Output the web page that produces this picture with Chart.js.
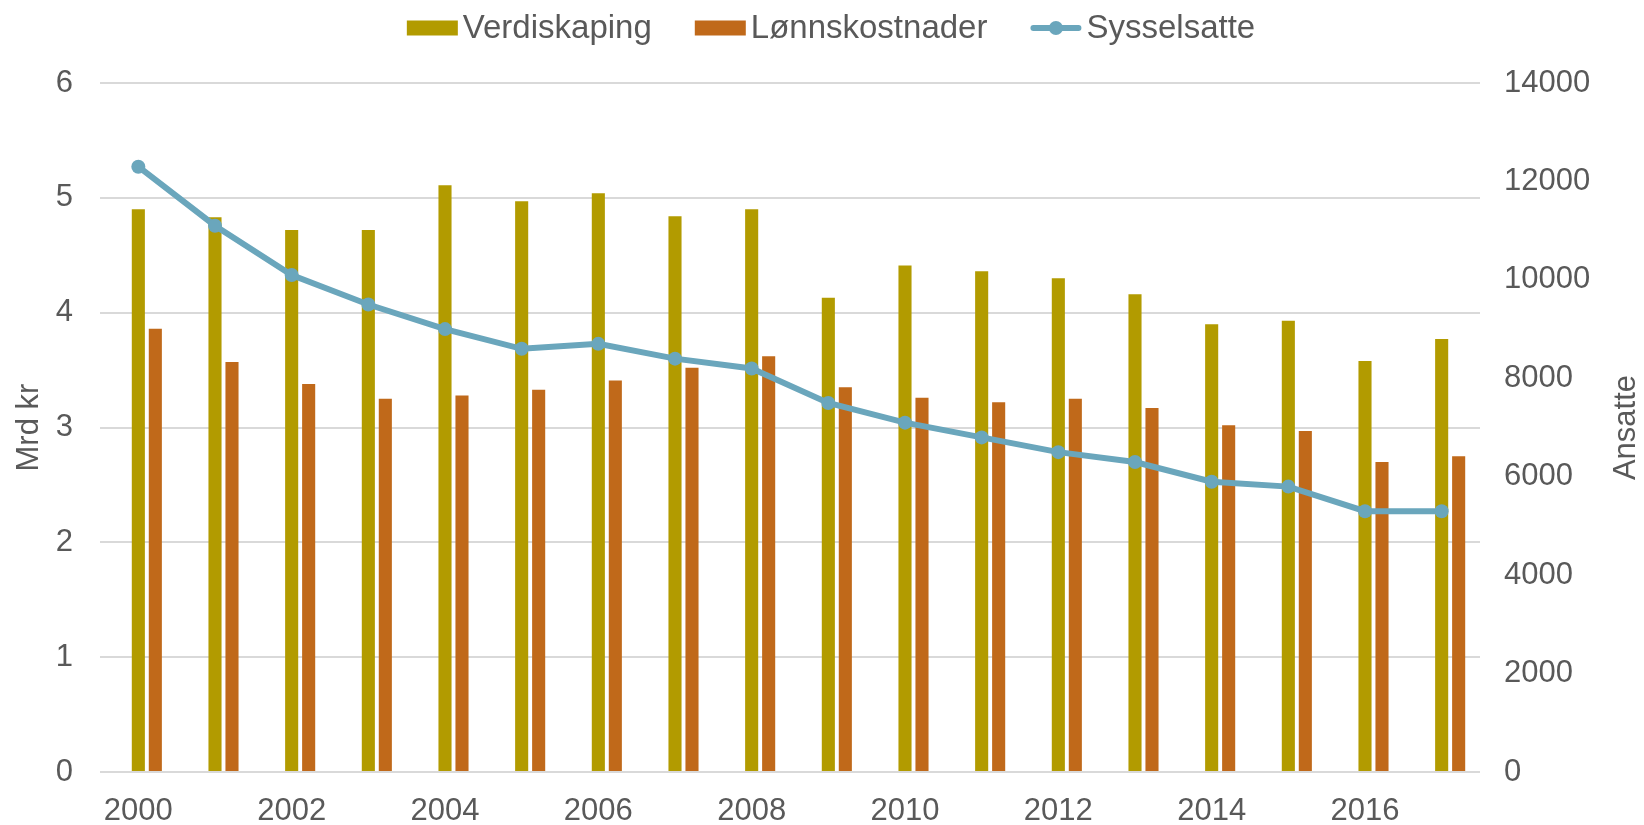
<!DOCTYPE html>
<html>
<head>
<meta charset="utf-8">
<title>Verdiskaping, lønnskostnader og sysselsatte</title>
<script src="https://cdn.jsdelivr.net/npm/chart.js@4/dist/chart.umd.min.js"></script>
<style>
  html, body { margin: 0; padding: 0; background: #fff; }
  .chart-box { position: relative; width: 1644px; height: 825px; }
</style>
</head>
<body>
<div class="chart-box">
  <canvas id="mainChart"></canvas>
</div>
<script>
  const years = ['2000', '2001', '2002', '2003', '2004', '2005', '2006', '2007', '2008',
                 '2009', '2010', '2011', '2012', '2013', '2014', '2015', '2016', '2017'];
  // Mrd kr
  const verdiskaping   = [4.90, 4.83, 4.72, 4.72, 5.11, 4.97, 5.04, 4.84, 4.90, 4.13, 4.41, 4.36, 4.30, 4.16, 3.90, 3.93, 3.58, 3.77];
  const lonnskostnader = [3.86, 3.57, 3.38, 3.25, 3.28, 3.33, 3.41, 3.52, 3.62, 3.35, 3.26, 3.22, 3.25, 3.17, 3.02, 2.97, 2.70, 2.75];
  // Ansatte
  const sysselsatte    = [12300, 11100, 10100, 9500, 9000, 8600, 8700, 8400, 8200, 7500, 7100, 6800, 6500, 6300, 5900, 5800, 5300, 5300];

  const leftTicks  = [0, 1, 2, 3, 4, 5, 6];
  const rightTicks = [0, 2000, 4000, 6000, 8000, 10000, 12000, 14000];

  const textColor = '#595959';
  const fontFamily = '"Liberation Sans", Arial, sans-serif';
  const fontSize = 31;
  const legendFontSize = 33;

  // legend + right axis title drawn by hand (line legend needs a marker, title reads bottom-up)
  const extras = {
    id: 'extras',
    afterDraw(chart) {
      const ctx = chart.ctx;
      const area = chart.chartArea;
      ctx.save();
      ctx.fillStyle = textColor;
      ctx.textBaseline = 'middle';

      // Ansatte
      ctx.font = fontSize + 'px ' + fontFamily;
      ctx.save();
      ctx.translate(1626, (area.top + area.bottom) / 2);
      ctx.rotate(-Math.PI / 2);
      ctx.textAlign = 'center';
      ctx.fillText('Ansatte', 0, 0);
      ctx.restore();

      // legend: bars first, then the line
      ctx.font = legendFontSize + 'px ' + fontFamily;
      const withLabel = chart.data.datasets.filter(d => d.label);
      const items = withLabel.filter(d => d.type !== 'line').concat(withLabel.filter(d => d.type === 'line'));
      const boxW = 51, gap = 5, spacing = 43;
      let total = 0;
      items.forEach((d, i) => {
        total += boxW + gap + ctx.measureText(d.label).width;
        if (i > 0) total += spacing;
      });
      let x = 831 - total / 2;
      const y = 28;
      ctx.textAlign = 'left';
      items.forEach(d => {
        if (d.type === 'line') {
          ctx.strokeStyle = d.borderColor;
          ctx.lineWidth = 6;
          ctx.lineCap = 'round';
          ctx.beginPath();
          ctx.moveTo(x + 3, y);
          ctx.lineTo(x + boxW - 3, y);
          ctx.stroke();
          ctx.fillStyle = d.borderColor;
          ctx.beginPath();
          ctx.arc(x + boxW / 2, y, 7, 0, Math.PI * 2);
          ctx.fill();
        } else {
          ctx.fillStyle = d.backgroundColor;
          ctx.fillRect(x, y - 7.5, boxW, 15);
        }
        ctx.fillStyle = textColor;
        ctx.fillText(d.label, x + boxW + gap, y + 1);
        x += boxW + gap + ctx.measureText(d.label).width + spacing;
      });
      ctx.restore();
    }
  };

  new Chart(document.getElementById('mainChart'), {
    data: {
      labels: years,
      datasets: [
        {
          type: 'line',
          label: 'Sysselsatte',
          data: sysselsatte,
          yAxisID: 'y1',
          borderColor: '#6aa6bc',
          backgroundColor: '#6aa6bc',
          borderWidth: 6,
          pointRadius: 7,
          pointBorderWidth: 0,
          pointBackgroundColor: '#6aa6bc',
          tension: 0,
          order: 0
        },
        {
          // empty slot so that Verdiskaping sits on the category centre
          type: 'bar',
          label: '',
          data: [],
          yAxisID: 'y',
          order: 1
        },
        {
          type: 'bar',
          label: 'Verdiskaping',
          data: verdiskaping,
          yAxisID: 'y',
          backgroundColor: '#b29b00',
          order: 1
        },
        {
          type: 'bar',
          label: 'Lønnskostnader',
          data: lonnskostnader,
          yAxisID: 'y',
          backgroundColor: '#c0691a',
          order: 1
        }
      ]
    },
    options: {
      responsive: true,
      maintainAspectRatio: false,
      animation: false,
      layout: { padding: { top: 83, left: 0, right: 0, bottom: 0 } },
      datasets: {
        bar: { categoryPercentage: 0.665, barPercentage: 0.77 }
      },
      plugins: {
        legend: { display: false },
        tooltip: { enabled: false }
      },
      scales: {
        x: {
          grid: { display: false, drawTicks: true, tickLength: 25, tickColor: 'transparent' },
          border: { display: false },
          ticks: {
            autoSkip: false,
            maxRotation: 0,
            padding: 0,
            color: textColor,
            font: { family: fontFamily, size: fontSize, lineHeight: 0.9 },
            callback: function(val, i) {
              return i % 2 === 0 ? this.getLabelForValue(val) : null;
            }
          }
        },
        y: {
          position: 'left',
          min: leftTicks[0],
          max: leftTicks[leftTicks.length - 1],
          afterBuildTicks: scale => { scale.ticks = leftTicks.map(v => ({ value: v })); },
          afterFit: scale => { scale.width = 100; },
          grid: { color: '#d9d9d9', lineWidth: 2, drawTicks: false },
          border: { display: false },
          ticks: {
            padding: 27,
            color: textColor,
            font: { family: fontFamily, size: fontSize }
          },
          title: {
            display: true,
            text: 'Mrd kr',
            color: textColor,
            padding: { top: 11, bottom: 0 },
            font: { family: fontFamily, size: fontSize }
          }
        },
        y1: {
          position: 'right',
          min: rightTicks[0],
          max: rightTicks[rightTicks.length - 1],
          afterBuildTicks: scale => { scale.ticks = rightTicks.map(v => ({ value: v })); },
          afterFit: scale => { scale.width = 164; },
          grid: { display: false, drawTicks: false },
          border: { display: false },
          ticks: {
            padding: 24,
            color: textColor,
            font: { family: fontFamily, size: fontSize },
            callback: v => String(v)
          }
        }
      }
    },
    plugins: [extras]
  });
</script>
</body>
</html>
